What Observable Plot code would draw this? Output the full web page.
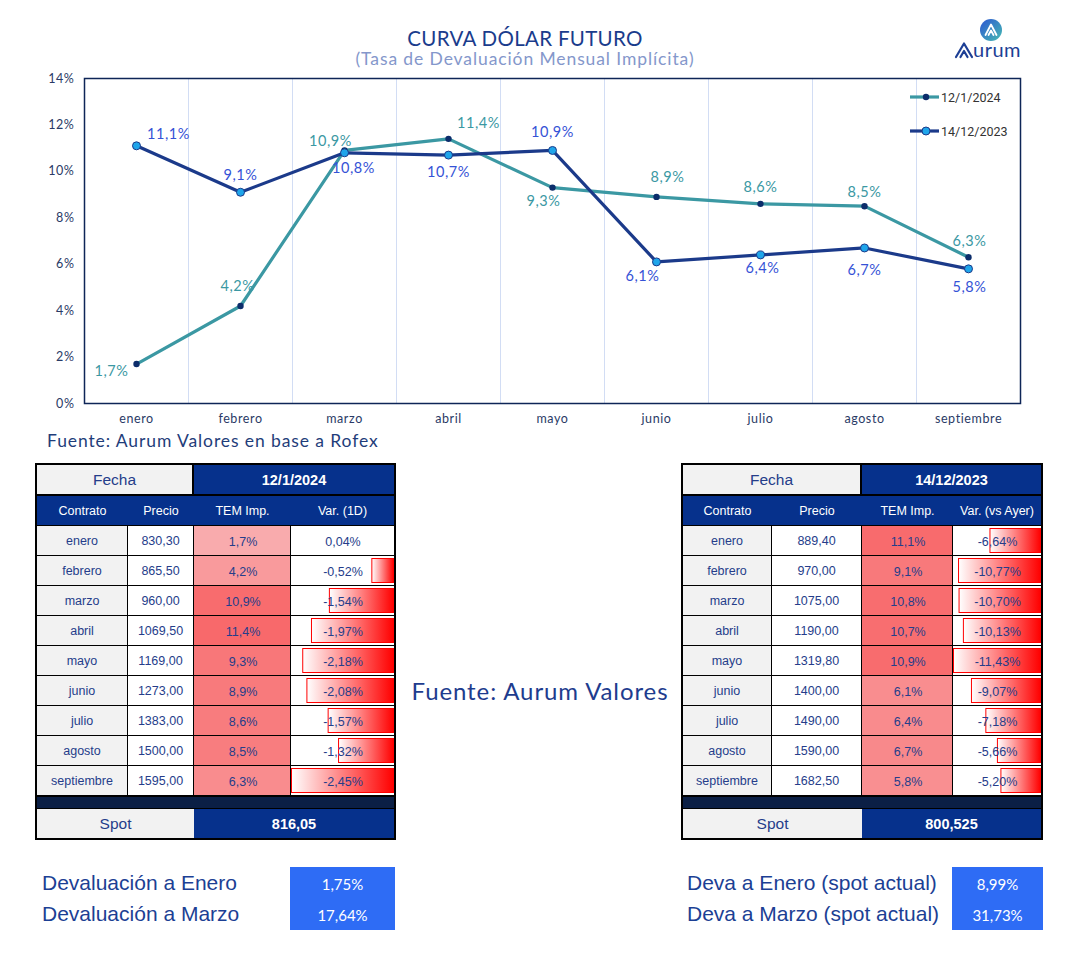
<!DOCTYPE html>
<html><head><meta charset="utf-8">
<script src="https://cdn.jsdelivr.net/npm/d3@7"></script>
<script src="https://cdn.jsdelivr.net/npm/@observablehq/plot@0.6"></script>
<style>
body{margin:0;background:#fff;}
#root{position:relative;width:1080px;height:961px;overflow:hidden;font-family:Lato,"Open Sans",sans-serif;}
.tbl{font-family:"Liberation Sans",Arial,sans-serif;}
</style></head><body><div id="root"></div>
<script>
// ---------- DATA ----------
const months = ["enero","febrero","marzo","abril","mayo","junio","julio","agosto","septiembre"];
const seriesNames = ["12/1/2024","14/12/2023"];
const tem2024 = [1.7,4.2,10.9,11.4,9.3,8.9,8.6,8.5,6.3];
const tem2023 = [11.1,9.1,10.8,10.7,10.9,6.1,6.4,6.7,5.8];
const price2024 = [830.30,865.50,960.00,1069.50,1169.00,1273.00,1383.00,1500.00,1595.00];
const price2023 = [889.40,970.00,1075.00,1190.00,1319.80,1400.00,1490.00,1590.00,1682.50];
const var2024 = [0.04,-0.52,-1.54,-1.97,-2.18,-2.08,-1.57,-1.32,-2.45];
const var2023 = [-6.64,-10.77,-10.70,-10.13,-11.43,-9.07,-7.18,-5.66,-5.20];
const varHeaders = ["Var. (1D)","Var. (vs Ayer)"];
const colHeaders = ["Contrato","Precio","TEM Imp."];
const spotLabels = ["816,05","800,525"];
const devaLabels2024 = ["Devaluación a Enero","Devaluación a Marzo"];
const devaValues2024 = [1.75,17.64];
const devaLabels2023 = ["Deva a Enero (spot actual)","Deva a Marzo (spot actual)"];
const devaValues2023 = [8.99,31.73];
const titleText = "CURVA DÓLAR FUTURO";
const subtitleText = "(Tasa de Devaluación Mensual Implícita)";
const sourceChart = "Fuente: Aurum Valores en base a Rofex";
const sourceTables = "Fuente: Aurum Valores";

// ---------- LAYOUT / STYLE ----------
const LABEL_OFFSETS = [
  [[-25,7],[-3,-20],[-14,-9],[30,-15],[-9,14],[11,-20],[0,-16],[0,-14],[1,-16]],
  [[32,-11],[0,-17],[9,16],[0,17],[0,-18],[-14,14],[2,13],[0,22],[1,19]]
];
const SERIES_STYLE = [
  {line:"#3b98a3", label:"#3b98a3", dot:"#0c2d6b", dotStroke:"none", r:3.2},
  {line:"#1b3a8a", label:"#3552d6", dot:"#1fa5ea", dotStroke:"#1b3a8a", r:4}
];
const NAVY = "#06318c", TXT = "#253d8a", GRAY = "#f2f2f2";
const TABLE_X = [[37,128,194,291,394],[683,772,862,953,1041]];

const fmt = (v,d) => v.toFixed(d).replace(".", ",");
const root = document.getElementById("root");
function box(x,y,w,h,css={},text="",cls=""){
  const d=document.createElement("div");
  if(cls) d.className=cls;
  Object.assign(d.style,{position:"absolute",left:x+"px",top:y+"px",width:w+"px",height:h+"px",
    display:"flex",alignItems:"center",justifyContent:"center",boxSizing:"border-box",whiteSpace:"nowrap"},css);
  d.textContent=text; root.appendChild(d); return d;
}
function place(node,x,y){node.style.position="absolute";node.style.left=x+"px";node.style.top=y+"px";root.appendChild(node);return node;}

// ---------- LINE CHART ----------
const seriesVals = [tem2024, tem2023];
const seriesData = seriesVals.map((vals,s)=>vals.map((v,i)=>({m:months[i], v, s:seriesNames[s]})));
const marks = [
  Plot.cell(months,{x:d=>d, stroke:"#d2ddf4", strokeWidth:1, fill:"none", shapeRendering:"crispEdges"}),
  Plot.frame({stroke:"#0e2557", strokeWidth:1.5})
];
seriesData.forEach((data,s)=>{
  const st=SERIES_STYLE[s];
  marks.push(Plot.line(data,{x:"m",y:"v",stroke:st.line,strokeWidth:3.2}));
  marks.push(Plot.dot(data,{x:"m",y:"v",r:st.r,fill:st.dot,stroke:st.dotStroke,strokeWidth:1}));
});
seriesData.forEach((data,s)=>{
  data.forEach((d,i)=>{
    const [dx,dy]=LABEL_OFFSETS[s][i];
    marks.push(Plot.text([d],{x:"m",y:"v",text:e=>fmt(e.v,1)+"%",dx,dy,fill:SERIES_STYLE[s].label,fontSize:14.5}));
  });
});
const chart = Plot.plot({
  width:1080, height:450, marginLeft:84, marginRight:60, marginTop:78, marginBottom:47,
  style:{fontFamily:"Lato, sans-serif", fontSize:"12.5px", color:"#2a3a66", background:"transparent", overflow:"visible", letterSpacing:"0.6px"},
  x:{domain:months, padding:0, label:null, tickSize:0, tickPadding:11},
  y:{domain:[0,14], ticks:7, tickFormat:d=>d+"%", label:null, tickSize:0, tickPadding:10},
  marks
});
place(chart,0,0);

// legend
const leg = d3.create("svg").attr("width",150).attr("height",60);
seriesNames.forEach((n,s)=>{
  const y=12+s*34, st=SERIES_STYLE[s];
  leg.append("line").attr("x1",10).attr("x2",39).attr("y1",y).attr("y2",y).attr("stroke",st.line).attr("stroke-width",3.2);
  leg.append("circle").attr("cx",26).attr("cy",y).attr("r",st.r).attr("fill",st.dot).attr("stroke",st.dotStroke);
  leg.append("text").attr("x",41).attr("y",y+4.5).text(n).attr("font-family","Roboto, sans-serif").attr("font-size",12.5).attr("fill","#333");
});
place(leg.node(),900,85);

// titles
box(325,27,400,22,{color:"#1a3c8c",fontSize:"20.5px",letterSpacing:"0.3px"},titleText);
box(325,50,400,17,{color:"#8497cb",fontSize:"17.5px",letterSpacing:"0.9px"},subtitleText);
box(47,430,400,20,{justifyContent:"flex-start",color:"#1f3d7a",fontSize:"17.5px",letterSpacing:"0.9px"},sourceChart);
box(370,676,340,28,{color:"#1e3c8e",fontSize:"24px",letterSpacing:"0.9px"},sourceTables);

// logo
const logo = d3.create("svg").attr("width",100).attr("height",60);
const gr = logo.append("defs").append("linearGradient").attr("id","logoG").attr("x1","0").attr("y1","0").attr("x2","1").attr("y2","1");
gr.append("stop").attr("offset","0").attr("stop-color","#2d55d2");
gr.append("stop").attr("offset","1").attr("stop-color","#45bcb3");
logo.append("circle").attr("cx",51).attr("cy",20).attr("r",11).attr("fill","url(#logoG)");
logo.append("path").attr("d","M45.5,25 L51,14.5 L56.5,25 M48.5,25 L51,20.5 L53.5,25").attr("fill","none").attr("stroke","#fff").attr("stroke-width",1.8).attr("stroke-linejoin","round").attr("stroke-linecap","round");
logo.append("path").attr("d","M16,47 L24,33.5 L32,47 M20.5,47 L24,41 L27.5,47").attr("fill","none").attr("stroke","#1d3f95").attr("stroke-width",2.2).attr("stroke-linejoin","round").attr("stroke-linecap","round");
logo.append("text").attr("x",33).attr("y",47).text("urum").attr("font-family","Lato, sans-serif").attr("font-size",20).attr("letter-spacing","0.5px").attr("fill","#1d3f95");
place(logo.node(),940,10);

// ---------- TABLES ----------
const allTem = tem2024.concat(tem2023);
const temColor = {type:"linear", domain:d3.extent(allTem), range:["#f9abad","#f8696b"]};
const tables = [
  {date:seriesNames[0], prices:price2024, tem:tem2024, vars:var2024, varHeader:varHeaders[0], spot:spotLabels[0]},
  {date:seriesNames[1], prices:price2023, tem:tem2023, vars:var2023, varHeader:varHeaders[1], spot:spotLabels[1]}
];
const BODY_TOP=526, ROW_H=30, BODY_H=ROW_H*months.length;
tables.forEach((t,k)=>{
  const xs=TABLE_X[k], X0=xs[0], X4=xs[4];
  box(X0-2,463,X4-X0+4,377,{background:"#000"});
  box(X0,465,xs[2]-X0-2,29,{background:GRAY,color:TXT,fontSize:"15.5px"},"Fecha","tbl");
  box(xs[2],465,X4-xs[2],29,{background:NAVY,color:"#fff",fontWeight:"bold",fontSize:"14.5px"},t.date,"tbl");
  box(X0,496,X4-X0,29,{background:NAVY});
  colHeaders.concat([t.varHeader]).forEach((h,c)=>box(xs[c],496,xs[c+1]-xs[c],29,{color:"#fff",fontSize:"12.5px"},h,"tbl"));
  months.forEach((m,r)=>{
    const y=BODY_TOP+r*ROW_H;
    box(xs[0],y,xs[1]-xs[0]-1,ROW_H-1,{background:GRAY,color:TXT,fontSize:"12.5px"},m,"tbl");
    box(xs[1],y,xs[2]-xs[1]-1,ROW_H-1,{background:"#fff",color:TXT,fontSize:"12.5px"},fmt(t.prices[r],2),"tbl");
  });
  // TEM column
  const temRows = months.map((m,i)=>({m, v:t.tem[i]}));
  const temW = xs[3]-xs[2];
  const temPlot = Plot.plot({
    width:temW, height:BODY_H, margin:0,
    style:{background:"transparent",fontFamily:"Liberation Sans, Arial, sans-serif",fontSize:"12.5px"},
    y:{domain:months, padding:0, axis:null},
    color:temColor,
    marks:[
      Plot.cell(temRows,{y:"m",fill:"v",insetBottom:1,insetRight:1}),
      Plot.text(temRows,{y:"m",frameAnchor:"middle",text:d=>fmt(d.v,1)+"%",fill:TXT,fontSize:12.5})
    ]
  });
  place(temPlot,xs[2],BODY_TOP);
  // Var column with data bars (negative values drawn right-to-left)
  const varRows = months.map((m,i)=>({m, v:t.vars[i]}));
  const varW = xs[4]-xs[3];
  const maxAbs = d3.max(t.vars,v=>Math.abs(v));
  const gid = "varGrad"+k;
  const varPlot = Plot.plot({
    width:varW, height:BODY_H, margin:0,
    style:{background:"transparent",fontFamily:"Liberation Sans, Arial, sans-serif",fontSize:"12.5px"},
    x:{domain:[0,maxAbs], range:[varW-0.5,0.5], axis:null},
    y:{domain:months, padding:0, axis:null},
    marks:[
      Plot.cell(months,{y:d=>d,fill:"#fff",insetBottom:1}),
      Plot.barX(varRows.filter(d=>d.v<0),{y:"m",x1:()=>0,x2:d=>-d.v,fill:`url(#${gid})`,stroke:"#ff0000",strokeWidth:1,insetTop:2.5,insetBottom:3.5}),
      Plot.text(varRows,{y:"m",frameAnchor:"middle",text:d=>fmt(d.v,2)+"%",fill:TXT,fontSize:12.5})
    ]
  });
  const defs = d3.select(varPlot).insert("defs",":first-child");
  const g = defs.append("linearGradient").attr("id",gid).attr("x1","0").attr("x2","1").attr("y1","0").attr("y2","0");
  g.append("stop").attr("offset","0").attr("stop-color","#ffffff");
  g.append("stop").attr("offset","1").attr("stop-color","#ff0000");
  place(varPlot,xs[3],BODY_TOP);
  box(X0,797,X4-X0,11,{background:"#0b1f45"});
  box(X0,809,xs[2]-X0,29,{background:GRAY,color:TXT,fontSize:"15.5px"},"Spot","tbl");
  box(xs[2],809,X4-xs[2],29,{background:NAVY,color:"#fff",fontWeight:"bold",fontSize:"14.5px"},t.spot,"tbl");
});

// ---------- DEVALUATION SUMMARY ----------
const summaries = [
  {labels:devaLabels2024, values:devaValues2024, lx:42, bx:290, bw:105},
  {labels:devaLabels2023, values:devaValues2023, lx:687, bx:952, bw:91}
];
summaries.forEach(sm=>{
  box(sm.bx,867,sm.bw,63,{background:"#2e6cf5"});
  sm.labels.forEach((l,i)=>{
    const y=867+i*31;
    box(sm.lx,y,250,31,{justifyContent:"flex-start",color:"#1c3f94",fontSize:"21px"},l,"tbl");
    box(sm.bx,y+1,sm.bw,31,{color:"#fff",fontSize:"15px"},fmt(sm.values[i],2)+"%");
  });
});
</script></body></html>
